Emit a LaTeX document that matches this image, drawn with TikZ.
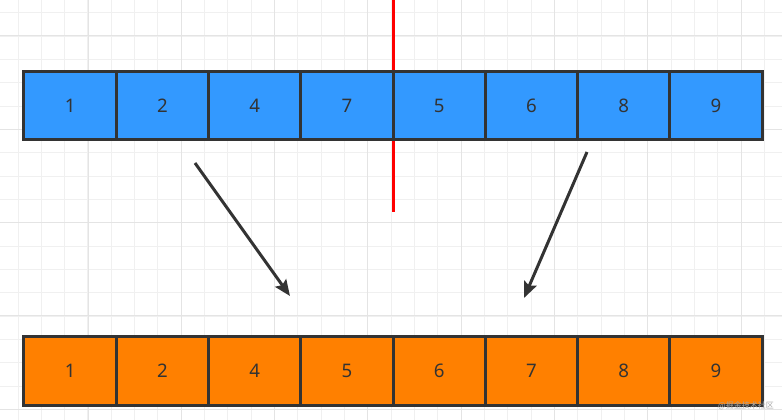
\documentclass[tikz,border=0pt]{standalone}
\usepackage{fontspec}
\setmainfont{Noto Sans}
\newfontfamily\cjkfont{Noto Sans CJK SC}
\usetikzlibrary{arrows.meta}

\definecolor{cellblue}{RGB}{51,153,255}
\definecolor{cellorange}{RGB}{255,128,0}
\definecolor{darkline}{RGB}{51,51,51}
\definecolor{gridminor}{RGB}{240,240,240}
\definecolor{gridmajor}{RGB}{228,228,228}

\tikzset{every picture/.style={line width=0.75pt},
  cell/.style={draw=darkline, line width=2.25pt, minimum width=69.19pt, minimum height=51pt,
    inner sep=0pt, outer sep=0pt, text=darkline, font=\fontsize{14}{16}\selectfont},
  bluecell/.style={cell, fill=cellblue},
  orangecell/.style={cell, fill=cellorange},
  moveline/.style={draw=darkline, line width=2.25pt, -{Stealth[length=12pt,width=10pt,inset=2pt]}}}

\begin{document}
\begin{tikzpicture}[x=0.75pt,y=0.75pt,yscale=-1,xscale=1]
\useasboundingbox (0,0) rectangle (782,420);
\fill[white] (0,0) rectangle (782,420);

%Grid background
\foreach \gx in {0,...,34} \draw[gridminor] ({-5.33+23.33*\gx},0) -- ++(0,420);
\foreach \gy in {0,...,18} \draw[gridminor] (0,{13+23.33*\gy}) -- ++(782,0);
\foreach \gx in {0,...,8} \draw[gridmajor] ({-5.33+93.33*\gx},0) -- ++(0,420);
\foreach \gy in {0,...,4} \draw[gridmajor] (0,{36+93.33*\gy}) -- ++(782,0);

%Split line
\draw [color=red, line width=2.25pt] (393,0) -- (393,212) ;

%Upper row
\foreach \v [count=\i] in {1,2,4,7,5,6,8,9}
  \node[bluecell] (b\i) at ({24+92.25*(\i-0.5)},106) {\v};

%Lower row
\foreach \v [count=\i] in {1,2,4,5,6,7,8,9}
  \node[orangecell] (o\i) at ({24+92.25*(\i-0.5)},371) {\v};

%Arrows
\coordinate (leftfrom) at (195,163);
\coordinate (leftto) at (290,296);
\coordinate (rightfrom) at (587,152);
\coordinate (rightto) at (524,298);
\draw [moveline] (leftfrom) -- (leftto) ;
\draw [moveline] (rightfrom) -- (rightto) ;

% Text Node
\node (mark) at (746,406) [inner sep=0pt, text=gray!70, font=\cjkfont\fontsize{6}{7}\selectfont] {@掘金技术社区};

\end{tikzpicture}
\end{document}
